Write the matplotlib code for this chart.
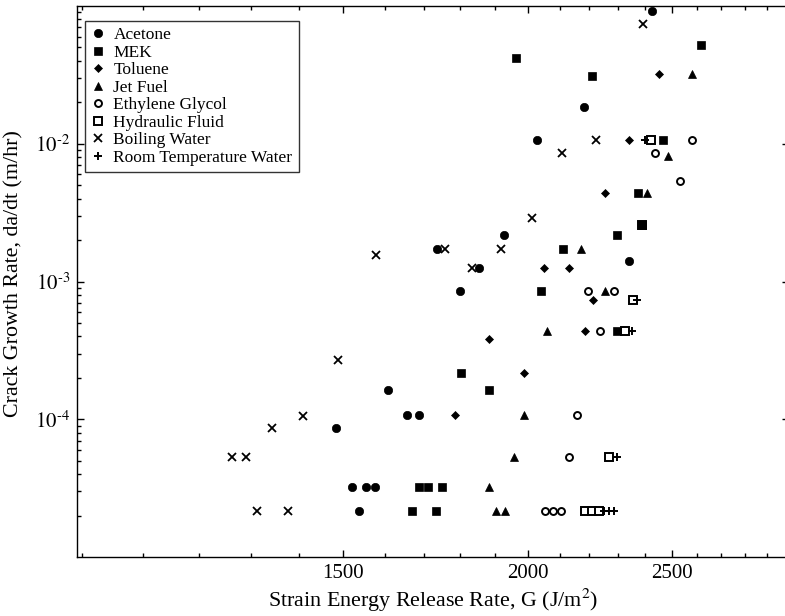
import matplotlib
matplotlib.use("Agg")
import matplotlib.pyplot as plt
from matplotlib.ticker import FixedLocator, NullFormatter, FixedFormatter

plt.rcParams['font.family'] = ['Liberation Serif', 'DejaVu Serif']
plt.rcParams['mathtext.fontset'] = 'stix'

# ---- data: strain energy release rate G (J/m^2) and crack growth rate (m/hr)
acetone_g = [2424, 2181, 2027, 1926, 1736, 2338, 1853, 1799, 1608, 1484, 1656, 1688, 1521, 1554, 1576, 1537]
acetone_r = [0.0921, 0.0185, 0.0107, 0.00216, 0.00171, 0.00142, 0.00126, 0.000847, 0.000162, 8.61e-5,
             1.07e-4, 1.07e-4, 3.22e-5, 3.22e-5, 3.22e-5, 2.16e-5]

mek_g = [2615, 1962, 2208, 2465, 2372, 2386, 2295, 2111, 2040, 2295, 1802, 1881, 1688, 1712, 1749, 1670, 1733]
mek_r = [0.0521, 0.0420, 0.0311, 0.0107, 0.00442, 0.00259, 0.00216, 0.00171, 0.000847, 0.000434,
         0.000216, 0.000162, 3.22e-5, 3.22e-5, 3.22e-5, 2.16e-5, 2.16e-5]

toluene_g = [2450, 2338, 2253, 2049, 2130, 2211, 2185, 1881, 1986, 1785]
toluene_r = [0.0321, 0.0107, 0.00442, 0.00126, 0.00126, 0.000728, 0.000434, 0.000380, 0.000216, 1.07e-4]

jet_g = [2579, 2484, 2405, 2171, 2253, 2061, 1986, 1956, 1881, 1902, 1929]
jet_r = [0.0321, 0.00818, 0.00442, 0.00171, 0.000847, 0.000434, 1.07e-4, 5.31e-5, 3.22e-5, 2.16e-5, 2.16e-5]

glycol_g = [2579, 2435, 2531, 2195, 2284, 2235, 2157, 2130, 2052, 2078, 2105]
glycol_r = [0.0107, 0.00861, 0.00540, 0.000847, 0.000847, 0.000434, 1.07e-4, 5.31e-5, 2.16e-5, 2.16e-5, 2.16e-5]

hydraulic_g = [2420, 2386, 2353, 2324, 2267, 2185, 2208, 2232]
hydraulic_r = [0.0107, 0.00259, 0.000728, 0.000434, 5.31e-5, 2.16e-5, 2.16e-5, 2.16e-5]

boiling_g = [2390, 2221, 2108, 2011, 1758, 1917, 1833, 1580, 1488, 1410, 1344, 1263, 1290, 1312, 1376]
boiling_r = [0.0742, 0.0107, 0.00861, 0.00291, 0.00171, 0.00171, 0.00126, 0.00157, 0.000268, 1.05e-4,
             8.61e-5, 5.31e-5, 5.31e-5, 2.16e-5, 2.16e-5]

room_g = [2397, 2368, 2350, 2298, 2249, 2267, 2284]
room_r = [0.0107, 0.000728, 0.000434, 5.31e-5, 2.16e-5, 2.16e-5, 2.16e-5]

x_major = [1500, 2000, 2500]
x_major_labels = ['1500', '2000', '2500']
y_major = [1e-4, 1e-3, 1e-2]
y_major_labels = [r'$10^{\text{-}4}$', r'$10^{\text{-}3}$', r'$10^{\text{-}2}$']

fig = plt.figure(figsize=(7.85, 6.16), dpi=100)
ax = fig.add_axes([77/785, 1 - 557/616, (789 - 77)/785, (557 - 6)/616])

ax.set_xscale('log')
ax.set_yscale('log')

series = [
    (acetone_g, acetone_r, 'Acetone', dict(marker='o', ms=6, mfc='black', mec='black', mew=0.5), 3),
    (mek_g, mek_r, 'MEK', dict(marker='s', ms=5.5, mfc='black', mec='black', mew=0.5), 3),
    (toluene_g, toluene_r, 'Toluene', dict(marker='D', ms=3.6, mfc='black', mec='black', mew=0.5), 3),
    (jet_g, jet_r, 'Jet Fuel', dict(marker='^', ms=5.5, mfc='black', mec='black', mew=0.5), 3),
    (glycol_g, glycol_r, 'Ethylene Glycol', dict(marker='o', ms=5, mfc='white', mec='black', mew=1.4), 2),
    (hydraulic_g, hydraulic_r, 'Hydraulic Fluid', dict(marker='s', ms=5.5, mfc='white', mec='black', mew=1.4), 2),
    (boiling_g, boiling_r, 'Boiling Water', dict(marker='x', ms=5.5, mfc='black', mec='black', mew=1.3), 2),
    (room_g, room_r, 'Room Temperature Water', dict(marker='+', ms=6, mfc='black', mec='black', mew=1.4), 2),
]
for g, r, lab, st, z in series:
    ax.plot(g, r, linestyle='none', label=lab, zorder=z, **st)

ax.set_xlim(992, 3000)
ax.set_ylim(1e-5, 1e-1)

minor_x = [v for v in range(1000, 3000, 100) if v not in x_major]
ax.xaxis.set_major_locator(FixedLocator(x_major))
ax.xaxis.set_major_formatter(FixedFormatter(x_major_labels))
ax.xaxis.set_minor_locator(FixedLocator(minor_x))
ax.xaxis.set_minor_formatter(NullFormatter())

minor_y = [m * 10.0**e for e in range(-5, -1) for m in range(2, 10)]
ax.yaxis.set_major_locator(FixedLocator(y_major))
ax.yaxis.set_major_formatter(FixedFormatter(y_major_labels))
ax.yaxis.set_minor_locator(FixedLocator(minor_y))
ax.yaxis.set_minor_formatter(NullFormatter())

ax.tick_params(which='both', direction='in', top=True, right=True, width=1.0, colors='black')
ax.tick_params(which='major', length=5, labelsize=15, pad=5)
ax.tick_params(which='minor', length=2.8)
for s in ax.spines.values():
    s.set_linewidth(1.0)

ax.set_xlabel(r'Strain Energy Release Rate, G (J/m$^{2}$)', fontsize=15.8, labelpad=3)
ax.set_ylabel('Crack Growth Rate, da/dt (m/hr)', fontsize=15.8)
ax.yaxis.set_label_coords(-0.075, 0.514)

leg = ax.legend(loc='upper left', bbox_to_anchor=(0.011, 0.973), borderaxespad=0,
                fontsize=12.5, frameon=True, fancybox=False, edgecolor='black',
                handlelength=0.8, handletextpad=0.5, labelspacing=0.08, borderpad=0.35,
                numpoints=1)
leg.get_frame().set_linewidth(1.0)

fig.savefig('out.png', dpi=100)
